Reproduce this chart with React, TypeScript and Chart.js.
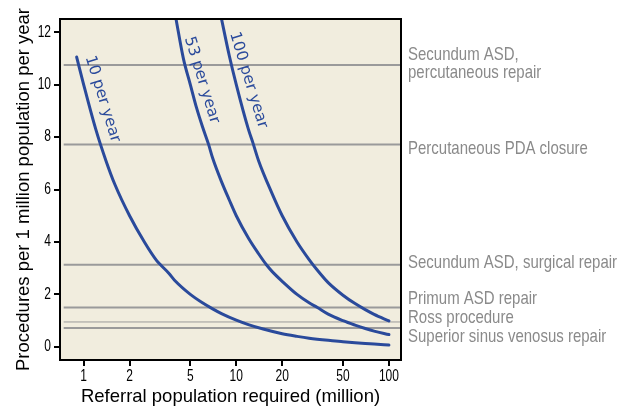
import React, { useEffect, useRef } from "react";
import { Chart, registerables } from "chart.js";

Chart.register(...registerables);

// ---- Data ----
const xTicks = [1, 2, 5, 10, 20, 50, 100];
const yTicks = [0, 2, 4, 6, 8, 10, 12];

const curve10X = [0.9, 1, 1.2, 1.4, 1.6, 2, 2.5, 3, 3.2, 3.6, 4, 5, 6, 7, 8, 10, 12, 15, 20, 25, 30, 40, 50, 60, 70, 80, 100];
const curve10Y = [11.05, 10, 8.3, 7.1, 6.2, 5.0, 4.0, 3.3, 3.12, 2.82, 2.5, 2.0, 1.68, 1.45, 1.27, 1.02, 0.85, 0.68, 0.5, 0.4, 0.33, 0.25, 0.2, 0.16, 0.13, 0.11, 0.07];

const curve53X = [4.0, 4.5, 5, 5.5, 6, 6.6, 7, 8, 9, 10, 12, 14, 15.8, 17.2, 20, 25, 30, 34, 40, 50, 60, 70, 80, 100];
const curve53Y = [12.6, 11.0, 10.0, 9.1, 8.4, 7.7, 7.2, 6.3, 5.6, 5.0, 4.15, 3.55, 3.12, 2.87, 2.5, 2.0, 1.68, 1.5, 1.25, 1.0, 0.83, 0.7, 0.6, 0.47];

const curve100X = [7.9, 9, 10, 12, 12.9, 14, 17, 20, 25, 30, 33.7, 40, 50, 60, 70, 80, 100];
const curve100Y = [12.66, 11.1, 10.0, 8.3, 7.75, 7.1, 5.9, 5.0, 4.0, 3.33, 2.95, 2.45, 1.97, 1.65, 1.42, 1.24, 0.99];

const curveNames = ["10 per year", "53 per year", "100 per year"];
// label anchor (data units) and angle in degrees
const curveLabelX = [1.33, 5.95, 12.0];
const curveLabelY = [9.45, 10.17, 10.17];
const curveLabelAngle = [73, 73, 73];

const procedures = [
  ["Secundum ASD,", "percutaneous repair"],
  ["Percutaneous PDA closure"],
  ["Secundum ASD, surgical repair"],
  ["Primum ASD repair"],
  ["Ross procedure"],
  ["Superior sinus venosus repair"],
];
const procedureRates = [10.75, 7.72, 3.13, 1.5, 0.95, 0.72];
const procedureLabelY = [10.78, 7.56, 3.2, 1.83, 1.1, 0.38];
const procedureLineWidth = [2, 2, 2, 2, 1, 2];

const X_MIN = 0.74;
const X_MAX = 120;
const Y_MIN = -0.5;
const Y_MAX = 12.5;

const BLUE = "#2a4a9b";
const GRAY_LINE = "#9a9a9a";
const GRAY_TEXT = "#8a8a8a";
const BG = "#f1edde";
const SANS = '"Liberation Sans", Arial, sans-serif';

const toPts = (xs: number[], ys: number[]) => xs.map((x, i) => ({ x, y: ys[i] }));

// draw horizontally condensed text
function narrowText(ctx: CanvasRenderingContext2D, text: string, x: number, y: number, sx: number, align: CanvasTextAlign) {
  ctx.save();
  ctx.translate(x, y);
  ctx.scale(sx, 1);
  ctx.textAlign = align;
  ctx.fillText(text, 0, 0);
  ctx.restore();
}

export default function App() {
  const ref = useRef<HTMLCanvasElement | null>(null);

  useEffect(() => {
    if (!ref.current) return;

    const bgPlugin = {
      id: "bg",
      beforeDraw(chart: any) {
        const { ctx, chartArea: a } = chart;
        ctx.save();
        ctx.fillStyle = BG;
        ctx.fillRect(a.left, a.top, a.right - a.left, a.bottom - a.top);
        ctx.restore();
      },
    };

    const annotPlugin = {
      id: "annot",
      afterDatasetsDraw(chart: any) {
        const { ctx, scales } = chart;
        const xs = scales.x;
        const ys = scales.y;
        ctx.save();
        ctx.fillStyle = BLUE;
        ctx.font = '15.5px "DejaVu Sans", sans-serif';
        ctx.textAlign = "center";
        ctx.textBaseline = "middle";
        curveNames.forEach((name, i) => {
          const px = xs.getPixelForValue(curveLabelX[i]);
          const py = ys.getPixelForValue(curveLabelY[i]);
          ctx.save();
          ctx.translate(px, py);
          ctx.rotate((curveLabelAngle[i] * Math.PI) / 180);
          ctx.fillText(name, 0, 0);
          ctx.restore();
        });
        ctx.restore();
      },
      afterDraw(chart: any) {
        const { ctx, chartArea: a, scales } = chart;
        const xs = scales.x;
        const ys = scales.y;
        ctx.save();
        // frame
        ctx.strokeStyle = "#000";
        ctx.lineWidth = 2;
        ctx.strokeRect(a.left, a.top, a.right - a.left, a.bottom - a.top);

        // tick labels (condensed)
        ctx.fillStyle = "#000";
        ctx.font = "16px " + SANS;
        ctx.textBaseline = "middle";
        xs.ticks.forEach((t: any) => {
          narrowText(ctx, String(t.value), xs.getPixelForValue(t.value), a.bottom + 17, 0.75, "center");
        });
        ys.ticks.forEach((t: any) => {
          narrowText(ctx, String(t.value), a.left - 9, ys.getPixelForValue(t.value), 0.75, "right");
        });

        // procedure labels
        ctx.fillStyle = GRAY_TEXT;
        ctx.font = "18.5px " + SANS;
        ctx.textBaseline = "middle";
        procedures.forEach((lines, i) => {
          const cy = ys.getPixelForValue(procedureLabelY[i]);
          const lh = 18;
          const start = cy - ((lines.length - 1) * lh) / 2;
          lines.forEach((t, j) => narrowText(ctx, t, a.right + 7, start + j * lh, 0.81, "left"));
        });
        ctx.restore();
      },
    };

    const curveDs = (label: string, xs: number[], ys: number[]) => ({
      label,
      data: toPts(xs, ys),
      showLine: true,
      borderColor: BLUE,
      borderWidth: 3,
      pointRadius: 0,
      cubicInterpolationMode: "monotone" as const,
      borderCapStyle: "round" as const,
      clip: 0,
      order: 1,
    });

    const lineDs = procedureRates.map((r, i) => ({
      label: procedures[i].join(" "),
      data: [
        { x: X_MIN, y: r },
        { x: X_MAX, y: r },
      ],
      showLine: true,
      borderColor: GRAY_LINE,
      borderWidth: procedureLineWidth[i],
      pointRadius: 0,
      clip: 0,
      order: 2,
    }));

    const chart = new Chart(ref.current, {
      type: "scatter",
      data: {
        datasets: [
          curveDs(curveNames[0], curve10X, curve10Y),
          curveDs(curveNames[1], curve53X, curve53Y),
          curveDs(curveNames[2], curve100X, curve100Y),
          ...lineDs,
        ] as any,
      },
      options: {
        animation: false,
        responsive: false,
        devicePixelRatio: 1,
        layout: { padding: { top: 19, right: 224, left: 0, bottom: 0 } },
        plugins: { legend: { display: false }, tooltip: { enabled: false } },
        scales: {
          x: {
            type: "logarithmic",
            min: X_MIN,
            max: X_MAX,
            afterFit: (s: any) => {
              s.height = 48;
            },
            afterBuildTicks: (s: any) => {
              s.ticks = xTicks.map((v) => ({ value: v }));
            },
            ticks: { display: false, autoSkip: false, maxRotation: 0 },
            grid: { drawOnChartArea: false, drawTicks: true, tickLength: 6, color: "#000", lineWidth: 2 },
            border: { display: false },
            title: {
              display: true,
              text: "Referral population required (million)",
              color: "#000",
              font: { family: SANS, size: 18.5 },
              padding: { top: 0, bottom: 0 },
            },
          },
          y: {
            type: "linear",
            min: Y_MIN,
            max: Y_MAX,
            afterFit: (s: any) => {
              s.width = 60;
            },
            afterBuildTicks: (s: any) => {
              s.ticks = yTicks.map((v) => ({ value: v }));
            },
            ticks: { display: false },
            grid: { drawOnChartArea: false, drawTicks: true, tickLength: 6, color: "#000", lineWidth: 2 },
            border: { display: false },
            title: {
              display: true,
              text: "Procedures per 1 million population per year",
              color: "#000",
              font: { family: SANS, size: 18.5 },
              padding: { top: 13, bottom: 0 },
            },
          },
        },
      } as any,
      plugins: [bgPlugin, annotPlugin],
    });

    return () => chart.destroy();
  }, []);

  return (
    <div style={{ position: "absolute", left: 0, top: 0, width: 625, height: 408, background: "#fff" }}>
      <canvas ref={ref} width={625} height={408} style={{ display: "block", width: 625, height: 408 }} />
    </div>
  );
}
